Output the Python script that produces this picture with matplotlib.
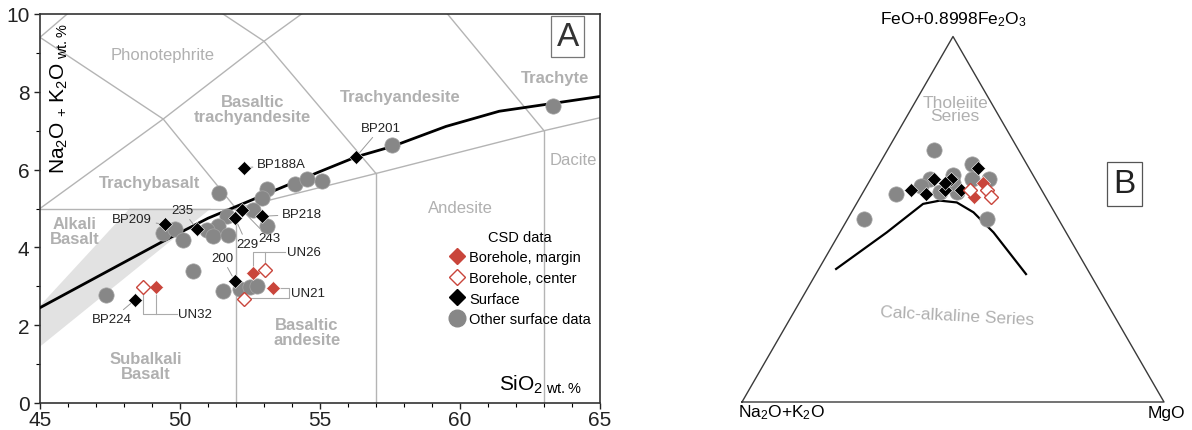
import matplotlib

matplotlib.use("Agg")
import matplotlib.pyplot as plt
from matplotlib.lines import Line2D
from matplotlib.patches import Polygon

plt.rcParams["font.family"] = ["Liberation Sans", "DejaVu Sans"]
plt.rcParams["mathtext.fontset"] = "custom"
plt.rcParams["mathtext.rm"] = "Liberation Sans"
plt.rcParams["mathtext.it"] = "Liberation Sans:italic"
plt.rcParams["mathtext.default"] = "regular"

# ---- panel A: TAS diagram (SiO2 vs Na2O+K2O, wt.%) ----
other_sio2 = [47.36, 49.38, 49.82, 50.12, 50.48, 51.40, 53.12, 52.92, 54.10, 54.52,
              55.06, 53.12, 52.62, 51.67, 51.37, 50.95, 51.19, 51.72, 51.55, 52.14,
              52.50, 52.74, 57.56, 63.31]
other_alk = [2.77, 4.36, 4.48, 4.20, 3.39, 5.40, 5.50, 5.27, 5.62, 5.76,
             5.70, 4.55, 4.97, 4.80, 4.55, 4.46, 4.29, 4.31, 2.88, 2.92,
             2.97, 3.01, 6.62, 7.64]
surf_sio2 = [48.39, 49.46, 50.60, 52.30, 52.20, 51.96, 52.92, 51.96, 56.29]
surf_alk = [2.65, 4.59, 4.48, 6.04, 4.97, 4.76, 4.80, 3.14, 6.33]
margin_sio2 = [49.14, 52.62, 53.31]
margin_alk = [2.99, 3.33, 2.96]
center_sio2 = [48.69, 53.04, 52.29]
center_alk = [2.99, 3.43, 2.68]

# alkaline / subalkaline divide
divide_sio2 = [45, 49.3, 51.0, 53.0, 55.0, 56.3, 57.6, 59.5, 61.4, 65]
divide_alk = [2.45, 4.12, 4.75, 5.35, 5.95, 6.33, 6.6, 7.11, 7.5, 7.88]

# TAS field boundaries (Le Bas et al. 1986)
tas_lines = [
    ([45, 52], [5, 5]),
    ([52, 52], [0, 5]),
    ([57, 57], [0, 5.9]),
    ([63, 63], [0, 7]),
    ([52, 57, 63, 69], [5, 5.9, 7, 8]),
    ([45, 49.4, 52], [5, 7.3, 5]),
    ([45, 49.4, 53, 57.6], [9.4, 7.3, 9.3, 11.7]),
    ([57, 53, 48.4], [5.9, 9.3, 11.5]),
    ([45, 48.4], [9.4, 11.5]),
    ([63, 57.6], [7, 11.7]),
]
band_sio2 = [45, 51.1, 48.2, 45]
band_alk = [1.45, 5.0, 5.0, 2.5]

# ---- panel B: AFM (A = Na2O+K2O, F = FeO+0.8998Fe2O3, M = MgO), percent ----
afm_other = [(20, 69, 11), (46, 50, 4), (35, 57, 8), (17, 50, 33), (13, 65, 22),
             (11, 61, 28), (15, 61, 24), (19, 62, 19), (25, 61, 14), (28, 59, 13),
             (24, 57, 18), (20, 57, 22), (20, 60, 20)]
afm_surface = [(31, 58, 11), (28, 57, 15), (24, 61, 15), (23, 58, 19), (20, 61, 19),
               (19, 58, 23), (12, 64, 24), (22, 60, 18)]
afm_margin = [(13, 60, 27), (17, 56, 27)]
afm_center = [(17, 58, 25), (13, 58, 29), (13, 56, 31)]
afm_divide = [(59.5, 36.4, 4.1), (42.5, 46.4, 11.1), (30.0, 54.2, 15.8),
              (25.6, 55.1, 19.3), (21.8, 54.6, 23.6), (19.2, 51.9, 28.9),
              (17.2, 46.4, 36.4), (15.2, 35.0, 49.8)]

GREY_LINE = "#b4b4b4"
GREY_TEXT = "#b0b0b0"
GREY_DOT = "#878787"
RED = "#c9453b"


def ternary_xy(points):
    xs, ys = [], []
    for a, f, m in points:
        s = a + f + m
        xs.append((m + f / 2) / s)
        ys.append(f / s * 0.8660)
    return xs, ys


def draw_markers(ax, x, y, kind):
    if kind == "other":
        ax.plot(x, y, "o", ms=11, mfc=GREY_DOT, mec="#a5a5a5", mew=0.5, ls="none", zorder=4)
    elif kind == "surface":
        ax.plot(x, y, "D", ms=7.4, mfc="black", mec="white", mew=0.4, ls="none", zorder=5)
    elif kind == "margin":
        ax.plot(x, y, "D", ms=7.4, mfc=RED, mec="white", mew=0.4, ls="none", zorder=5)
    else:
        ax.plot(x, y, "D", ms=7.2, mfc="white", mec=RED, mew=1.0, ls="none", zorder=5)


fig = plt.figure(figsize=(11.92, 4.31), dpi=100)

ax = fig.add_axes([40 / 1192, 27 / 431, 560 / 1192, 389 / 431])
ax.set_xlim(45, 65)
ax.set_ylim(0, 10)
ax.add_patch(Polygon(list(zip(band_sio2, band_alk)), closed=True,
                     facecolor="#e2e2e2", edgecolor="none", zorder=1))
for xs, ys in tas_lines:
    ax.plot(xs, ys, color=GREY_LINE, lw=1.0, zorder=2)
ax.plot(divide_sio2, divide_alk, color="black", lw=2.0, zorder=3)

draw_markers(ax, other_sio2, other_alk, "other")
draw_markers(ax, surf_sio2, surf_alk, "surface")
draw_markers(ax, margin_sio2, margin_alk, "margin")
draw_markers(ax, center_sio2, center_alk, "center")

# field names
bold = dict(color=GREY_TEXT, fontsize=12, fontweight="bold", ha="center", va="center",
            linespacing=1.0, zorder=2)
norm = dict(color=GREY_TEXT, fontsize=12, ha="center", va="center", zorder=2)
ax.text(49.37, 8.95, "Phonotephrite", **norm)
ax.text(52.6, 7.56, "Basaltic\ntrachyandesite", **bold)
ax.text(48.93, 5.67, "Trachybasalt", **bold)
ax.text(57.87, 7.87, "Trachyandesite", **bold)
ax.text(63.39, 8.38, "Trachyte", **bold)
ax.text(64.05, 6.25, "Dacite", **norm)
ax.text(60.0, 5.03, "Andesite", **norm)
ax.text(46.25, 4.42, "Alkali\nBasalt", **bold)
ax.text(48.79, 0.95, "Subalkali\nBasalt", **bold)
ax.text(54.54, 1.82, "Basaltic\nandesite", **bold)

# sample labels with leader lines
lead = dict(arrowstyle="-", color="#9a9a9a", lw=0.7, shrinkA=1, shrinkB=4)
lab = dict(fontsize=9.5, color="#222222", va="center")
ax.annotate("BP188A", xy=(52.3, 6.04), xytext=(52.75, 6.15), ha="left", arrowprops=lead, **lab)
ax.annotate("BP201", xy=(56.29, 6.33), xytext=(57.18, 7.08), ha="center", arrowprops=lead, **lab)
ax.annotate("BP209", xy=(49.46, 4.59), xytext=(48.29, 4.72), ha="center", arrowprops=lead, **lab)
ax.annotate("235", xy=(50.6, 4.48), xytext=(50.07, 4.97), ha="center", arrowprops=lead, **lab)
ax.annotate("BP218", xy=(52.92, 4.80), xytext=(53.64, 4.85), ha="left", arrowprops=lead, **lab)
ax.annotate("243", xy=(52.2, 4.97), xytext=(53.2, 4.23), ha="center", arrowprops=lead, **lab)
ax.annotate("229", xy=(51.96, 4.76), xytext=(52.39, 4.08), ha="center", arrowprops=lead, **lab)
ax.annotate("200", xy=(51.96, 3.14), xytext=(51.5, 3.74), ha="center", arrowprops=lead, **lab)
ax.annotate("BP224", xy=(48.39, 2.65), xytext=(47.57, 2.15), ha="center", arrowprops=lead, **lab)
ax.text(53.82, 3.87, "UN26", ha="left", **lab)
ax.text(53.95, 2.83, "UN21", ha="left", **lab)
ax.text(49.93, 2.28, "UN32", ha="left", **lab)
brk = dict(color="#aaaaaa", lw=0.8, zorder=2)
ax.plot([52.62, 52.62, 53.75], [3.45, 3.87, 3.87], **brk)
ax.plot([53.04, 53.04], [3.55, 3.87], **brk)
ax.plot([53.45, 53.9, 53.9, 52.4], [2.96, 2.96, 2.7, 2.7], **brk)
ax.plot([48.69, 48.69, 49.88], [2.85, 2.28, 2.28], **brk)
ax.plot([49.14, 49.14], [2.85, 2.28], **brk)

ax.text(45.7, 7.85, r"Na$_2$O$\,_+\,$K$_2$O$_{\rm\ wt.\%}$", rotation=90,
        ha="center", va="center", fontsize=15)
ax.text(64.36, 0.5, r"SiO$_{2\ \rm wt.\%}$", ha="right", va="center", fontsize=15)
ax.text(0.9425, 0.9425, "A", transform=ax.transAxes, ha="center", va="center", fontsize=24,
        color="#333333",
        bbox=dict(boxstyle="square,pad=0.16", facecolor="white", edgecolor="#777777", lw=0.9))

legend_handles = [
    Line2D([], [], marker="D", ls="none", ms=8.5, mfc=RED, mec=RED, label="Borehole, margin"),
    Line2D([], [], marker="D", ls="none", ms=8.5, mfc="white", mec=RED, label="Borehole, center"),
    Line2D([], [], marker="D", ls="none", ms=8.5, mfc="black", mec="black", label="Surface"),
    Line2D([], [], marker="o", ls="none", ms=12, mfc=GREY_DOT, mec=GREY_DOT,
           label="Other surface data"),
]
leg = ax.legend(handles=legend_handles, title="CSD data", loc="upper left",
                bbox_to_anchor=(0.718, 0.46), frameon=False, fontsize=10.5,
                title_fontsize=10.5, handletextpad=0.25, handlelength=1.2,
                labelspacing=0.45, borderaxespad=0)
leg.set_zorder(6)

ax.set_xticks([45, 50, 55, 60, 65])
ax.set_yticks([0, 2, 4, 6, 8, 10])
ax.set_xticks(range(45, 66), minor=True)
ax.set_yticks(range(0, 11), minor=True)
ax.tick_params(labelsize=15, length=4, width=1.0, colors="#222222")
ax.tick_params(axis="x", pad=1.0)
ax.tick_params(which="minor", length=3, width=0.8)
for spine in ax.spines.values():
    spine.set_color("#333333")
    spine.set_linewidth(1.2)

# ---- panel B ----
bx = fig.add_axes([742 / 1192, 28 / 431, 422 / 1192, 365.5 / 431])
bx.set_xlim(0, 1)
bx.set_ylim(0, 0.866)
bx.axis("off")
bx.plot([0, 1, 0.5, 0], [0, 0, 0.866, 0], color="#3a3a3a", lw=1.0, clip_on=False)
dx, dy = ternary_xy(afm_divide)
bx.plot(dx, dy, color="black", lw=1.6, zorder=3)
for pts, kind in ((afm_other, "other"), (afm_surface, "surface"),
                  (afm_margin, "margin"), (afm_center, "center")):
    px, py = ternary_xy(pts)
    draw_markers(bx, px, py, kind)

bx.text(0.5, 0.886, r"FeO+0.8998Fe$_2$O$_3$", ha="center", va="bottom", fontsize=12.5,
        clip_on=False)
bx.text(-0.01, -0.024, r"Na$_2$O+K$_2$O", ha="left", va="center", fontsize=12.5)
bx.text(1.05, -0.024, "MgO", ha="right", va="center", fontsize=12.5)
bx.text(0.505, 0.695, "Tholeiite\nSeries", ha="center", va="center", fontsize=12.5,
        color=GREY_TEXT, linespacing=0.85)
bx.text(0.51, 0.205, "Calc-alkaline Series", ha="center", va="center", fontsize=12.5,
        color=GREY_TEXT, rotation=-3)
bx.text(0.906, 0.517, "B", ha="center", va="center", fontsize=24, color="#222222",
        bbox=dict(boxstyle="square,pad=0.2", facecolor="white", edgecolor="#555555", lw=0.9))

fig.savefig("out.png", dpi=100)
